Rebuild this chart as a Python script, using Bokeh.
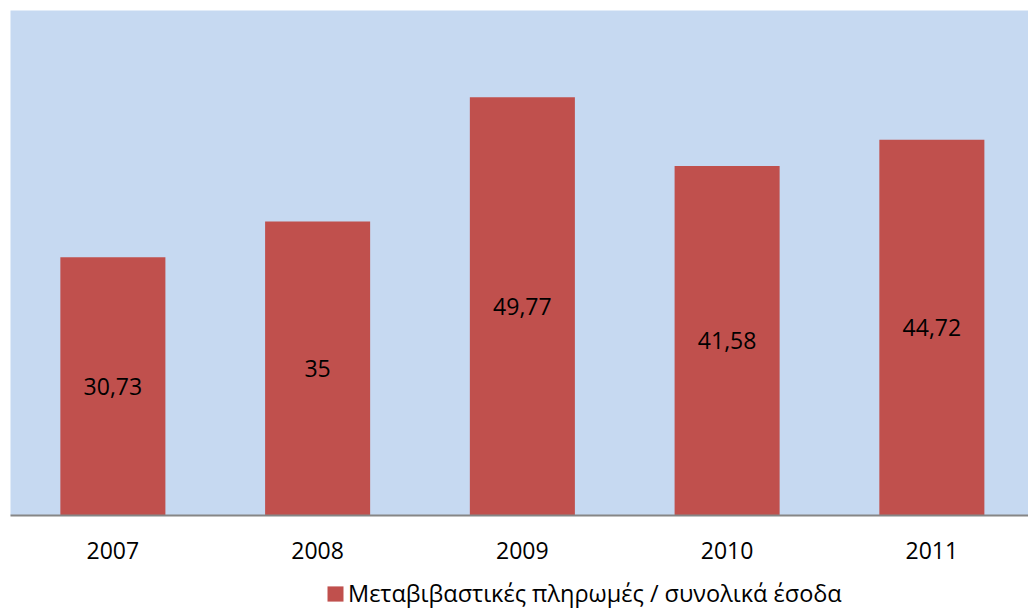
from bokeh.plotting import figure
from bokeh.layouts import column
from bokeh.models import ColumnDataSource, Range1d, Legend, LegendItem, FixedTicker
from bokeh.core.properties import value
from bokeh.embed import file_html
from bokeh.resources import INLINE

years = ["2007", "2008", "2009", "2010", "2011"]
ratios = [30.73, 35, 49.77, 41.58, 44.72]
series_name = "Μεταβιβαστικές πληρωμές / συνολικά έσοδα"

FONT = "Open Sans"
BAR = "#C0504D"

xs = list(range(len(years)))
labels = [f"{v:g}".replace(".", ",") for v in ratios]
src = ColumnDataSource(dict(x=xs, top=ratios, mid=[v / 2 for v in ratios], label=labels))

p = figure(width=1028, height=569, output_backend="svg", toolbar_location=None,
           x_range=Range1d(-0.5, 4.472), y_range=Range1d(0, 60.1),
           min_border_left=10, min_border_right=0, min_border_top=10, min_border_bottom=54)
p.background_fill_color = "#C6D9F1"
p.border_fill_color = "white"
p.outline_line_color = None
p.xgrid.visible = False
p.ygrid.visible = False
p.yaxis.visible = False

p.vbar(x="x", top="top", width=0.513, source=src, fill_color=BAR, line_color=None)
p.text(x="x", y="mid", text="label", source=src, text_align="center", text_baseline="middle",
       text_font=value(FONT), text_font_size="23px", text_color="black")

ax = p.xaxis[0]
ax.ticker = FixedTicker(ticks=xs)
ax.major_label_overrides = {i: y for i, y in enumerate(years)}
ax.major_tick_line_color = None
ax.minor_tick_line_color = None
ax.axis_line_color = "#868686"
ax.axis_line_width = 2
ax.major_label_text_font = FONT
ax.major_label_text_font_size = "23px"
ax.major_label_text_color = "black"
ax.major_label_standoff = 20

# strip under the chart that carries the series legend
leg = figure(width=1028, height=40, output_backend="svg", toolbar_location=None,
             x_range=Range1d(0, 1), y_range=Range1d(0, 1),
             min_border_left=0, min_border_right=0, min_border_top=0, min_border_bottom=0)
leg.outline_line_color = None
leg.background_fill_color = "white"
leg.axis.visible = False
leg.grid.visible = False
# swatch renderer sits outside the visible range; only its legend glyph shows
swatch = leg.vbar(x=[5], top=[5], width=0.1, fill_color=BAR, line_color=None)
legend = Legend(items=[LegendItem(label=series_name, renderers=[swatch])],
                location=(315, 0), orientation="horizontal",
                label_text_font=FONT, label_text_font_size="23.5px", label_text_color="black",
                label_text_line_height=0.8,
                glyph_width=20, glyph_height=19, label_standoff=3,
                border_line_color=None, background_fill_alpha=0,
                padding=0, margin=0, spacing=0)
leg.add_layout(legend)

layout = column(p, leg, spacing=0)
open("out.html", "w").write(file_html(layout, INLINE))
